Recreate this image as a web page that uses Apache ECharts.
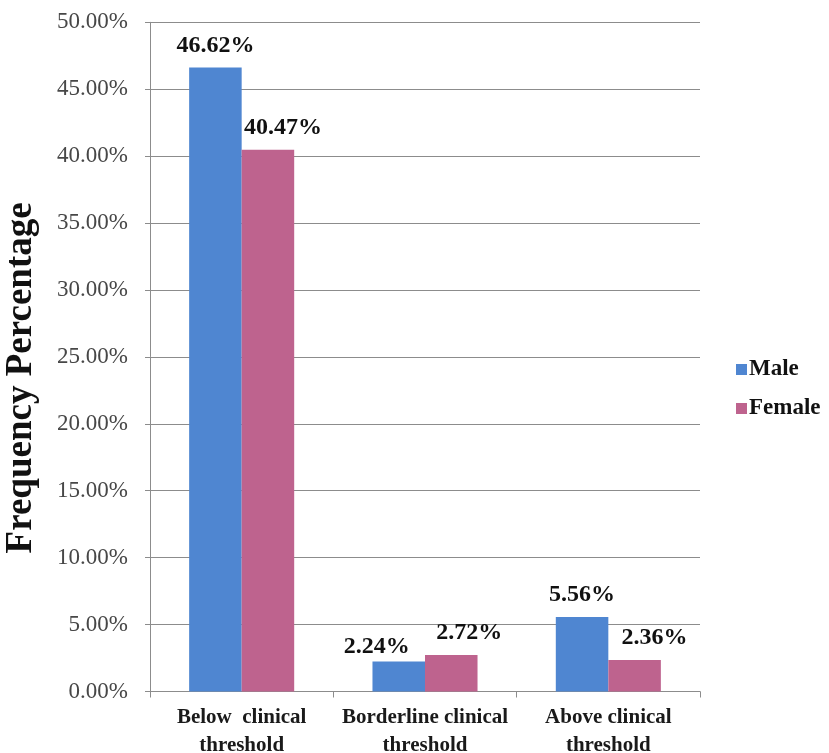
<!DOCTYPE html>
<html>
<head>
<meta charset="utf-8">
<script src="https://cdn.jsdelivr.net/npm/echarts@6/dist/echarts.min.js"></script>
<style>
  html, body { margin: 0; padding: 0; background: #ffffff; }
  #chart { width: 829px; height: 753px; }
</style>
</head>
<body>
<div id="chart"></div>
<script>
// Category labels along the x axis
const categories = ['Below  clinical\nthreshold', 'Borderline clinical\nthreshold', 'Above clinical\nthreshold'];
// Frequency percentages by gender
const maleValues = [46.62, 2.24, 5.56];
const femaleValues = [40.47, 2.72, 2.36];
// Value axis range and step (percent)
const yMin = 0;
const yMax = 50;
const yStep = 5;

// Nudges for the value labels so neighbouring labels don't collide
const maleLabelShift = [[0, 0], [-22, 7], [0, 0]];
const femaleLabelShift = [[15, 0], [18, 0], [20, 0]];

const serif = '"Liberation Serif", "Times New Roman", serif';
const pct = v => v.toFixed(2) + '%';

function buildData(values, shifts) {
  return values.map((v, i) => ({
    value: v,
    label: { offset: shifts[i] }
  }));
}

const valueLabel = {
  show: true,
  position: 'top',
  distance: 10,
  fontFamily: serif,
  fontWeight: 'bold',
  fontSize: 24,
  color: '#111',
  formatter: p => pct(p.value)
};

const chart = echarts.init(document.getElementById('chart'), null, { renderer: 'canvas' });
chart.setOption({
  animation: false,
  backgroundColor: '#ffffff',
  grid: {
    left: 150, right: 129, top: 22.3, bottom: 61.5,
    containLabel: false,
    outerBoundsMode: 'none'
  },
  legend: {
    orient: 'vertical',
    left: 731,
    top: 353,
    itemWidth: 11,
    itemHeight: 11,
    itemGap: 16,
    icon: 'rect',
    textStyle: { fontFamily: serif, fontWeight: 'bold', fontSize: 23, color: '#111', padding: [0, 0, 0, -3] },
    data: ['Male', 'Female']
  },
  xAxis: {
    type: 'category',
    data: categories,
    axisLine: { lineStyle: { color: '#8c8c8c', width: 1 } },
    axisTick: { show: true, length: 6, lineStyle: { color: '#8c8c8c' } },
    axisLabel: {
      fontFamily: serif,
      fontWeight: 'bold',
      fontSize: 21,
      color: '#1a1a1a',
      lineHeight: 28,
      margin: 12,
      interval: 0
    }
  },
  yAxis: {
    type: 'value',
    min: yMin,
    max: yMax,
    interval: yStep,
    name: 'Frequency Percentage',
    nameLocation: 'middle',
    nameGap: 110,
    nameTextStyle: {
      fontFamily: serif,
      fontWeight: 'bold',
      fontSize: 37,
      color: '#111',
      padding: [0, 42, 0, 0]
    },
    axisLine: { show: true, lineStyle: { color: '#8c8c8c', width: 1 } },
    axisTick: { show: true, length: 5, lineStyle: { color: '#8c8c8c' } },
    splitLine: { lineStyle: { color: '#8c8c8c', width: 1 } },
    axisLabel: {
      fontFamily: serif,
      fontSize: 23,
      color: '#474747',
      margin: 22,
      formatter: v => pct(v)
    }
  },
  series: [
    {
      name: 'Male',
      type: 'bar',
      data: buildData(maleValues, maleLabelShift),
      itemStyle: { color: '#4F86D1' },
      barGap: '0%',
      barCategoryGap: '42.7%',
      label: valueLabel
    },
    {
      name: 'Female',
      type: 'bar',
      data: buildData(femaleValues, femaleLabelShift),
      itemStyle: { color: '#BE638E' },
      barGap: '0%',
      barCategoryGap: '42.7%',
      label: valueLabel
    }
  ]
});
</script>
</body>
</html>
